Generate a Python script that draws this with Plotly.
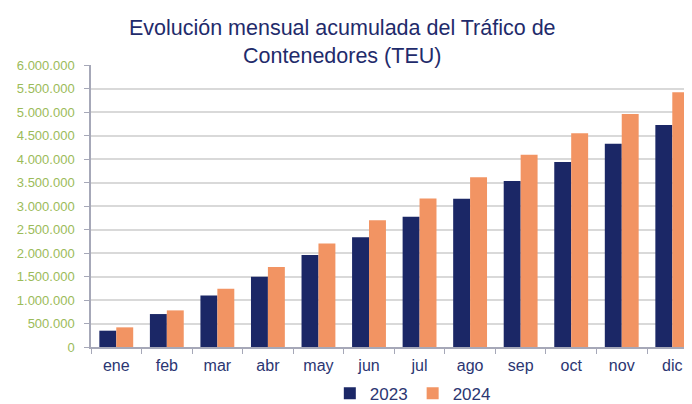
import plotly.graph_objects as go

months = ["ene", "feb", "mar", "abr", "may", "jun", "jul", "ago", "sep", "oct", "nov", "dic"]
teu_2023 = [347000, 701000, 1098000, 1494000, 1955000, 2337000, 2769000, 3152000, 3534000, 3938000, 4327000, 4724000]
teu_2024 = [418000, 779000, 1239000, 1700000, 2203000, 2698000, 3159000, 3612000, 4093000, 4547000, 4958000, 5418000]
y_ticks = [0, 500000, 1000000, 1500000, 2000000, 2500000, 3000000, 3500000, 4000000, 4500000, 5000000, 5500000, 6000000]
y_tick_text = ["0", "500.000", "1.000.000", "1.500.000", "2.000.000", "2.500.000", "3.000.000",
               "3.500.000", "4.000.000", "4.500.000", "5.000.000", "5.500.000", "6.000.000"]

NAVY = "#1b2766"
ORANGE = "#f29463"
TEXT = "#2b3672"

fig = go.Figure()
fig.add_trace(go.Bar(x=months, y=teu_2023, name="2023", marker=dict(color=NAVY, line=dict(width=0))))
fig.add_trace(go.Bar(x=months, y=teu_2024, name="2024", marker=dict(color=ORANGE, line=dict(width=0))))

# the page body adds an 8px offset; margins compensate for it
fig.update_layout(
    width=692, height=404,
    paper_bgcolor="white", plot_bgcolor="white",
    margin=dict(l=83, r=8, t=57, b=65, autoexpand=False),
    barmode="group", bargap=0.33, bargroupgap=0,
    font=dict(family="Liberation Sans, Arial, sans-serif", color=TEXT),
    title=dict(
        text="Evolución mensual acumulada del Tráfico de<br>Contenedores (TEU)",
        x=0.483, xanchor="center", xref="container",
        y=0.934, yanchor="top", yref="container",
        font=dict(size=21.5, color="#1f2b6b"),
    ),
    legend=dict(
        orientation="h", xref="container", yref="container",
        x=0.585, xanchor="center", y=0.045, yanchor="middle",
        font=dict(size=17, color=TEXT), itemwidth=30,
    ),
    xaxis=dict(
        range=[-0.5, 11.39], showgrid=False,
        showline=True, linecolor="#a6a8b8", linewidth=1.5,
        ticks="outside", tickson="boundaries", ticklen=5, tickcolor="#a6a8b8",
        tickfont=dict(size=16, color=TEXT), ticklabelstandoff=3,
    ),
    yaxis=dict(
        range=[0, 6000000], tickvals=y_ticks, ticktext=y_tick_text,
        showgrid=True, gridcolor="#d9d9d9", gridwidth=1.5,
        showline=True, linecolor="#a6a8b8", linewidth=1.5,
        ticks="outside", ticklen=5, tickcolor="#a6a8b8",
        tickfont=dict(size=13, color="#9bbb59"), ticklabelstandoff=7,
        zeroline=False,
    ),
)

fig.write_html("out.html")
